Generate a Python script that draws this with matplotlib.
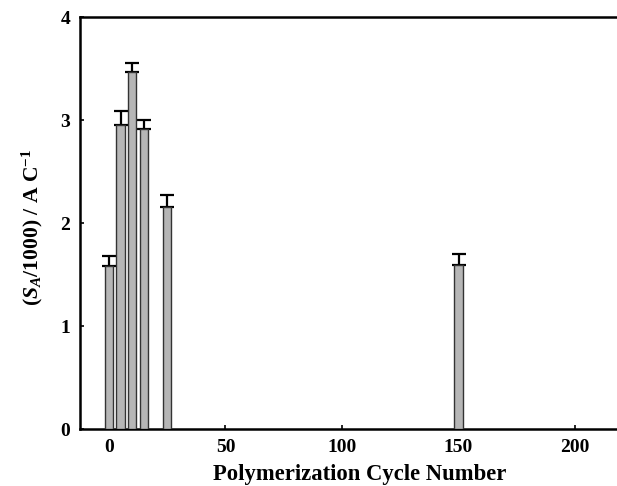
import numpy as np
import matplotlib
matplotlib.use('Agg')
import matplotlib.pyplot as plt

# cycle numbers, sensitivity (S_A/1000) and upper error
cycles = [0, 5, 10, 15, 25, 150]
sens = [1.58, 2.95, 3.47, 2.91, 2.16, 1.59]
err = [0.10, 0.14, 0.08, 0.09, 0.11, 0.11]

plt.rcParams['font.family'] = 'Liberation Serif'
plt.rcParams['font.weight'] = 'bold'
plt.rcParams['mathtext.fontset'] = 'custom'
plt.rcParams['mathtext.rm'] = 'Liberation Serif:bold'
plt.rcParams['mathtext.it'] = 'Liberation Serif:bold:italic'
plt.rcParams['mathtext.bf'] = 'Liberation Serif:bold'

fig = plt.figure(figsize=(6.17, 4.86), dpi=100)
ax = fig.add_axes([0.1297, 0.117, 0.8703, 0.848])

lower = np.zeros(len(err))
ax.errorbar(cycles, sens, yerr=[lower, err], fmt='none', ecolor='black',
            elinewidth=1.6, capsize=4.8, capthick=1.6, zorder=2)
ax.bar(cycles, sens, width=3.6, color='#b6b6b6', edgecolor='#333333',
       linewidth=1.0, zorder=3)

ax.set_xlim(-12.4, 218)
ax.set_ylim(0, 4)
ax.set_xticks([0, 50, 100, 150, 200])
ax.set_yticks([0, 1, 2, 3, 4])

ax.spines['right'].set_visible(False)
for s in ['left', 'bottom', 'top']:
    ax.spines[s].set_linewidth(1.8)

ax.tick_params(direction='in', length=3, width=1.2, labelsize=14, pad=7)

ax.set_xlabel('Polymerization Cycle Number', fontsize=16.3, fontweight='bold')
ax.xaxis.set_label_coords(0.521, -0.085)
ax.set_ylabel(r'($S_A$/1000) / A C$^{-1}$', fontsize=15.6, fontweight='bold')
ax.yaxis.set_label_coords(-0.066, 0.49)

fig.savefig('out.png', dpi=100)
